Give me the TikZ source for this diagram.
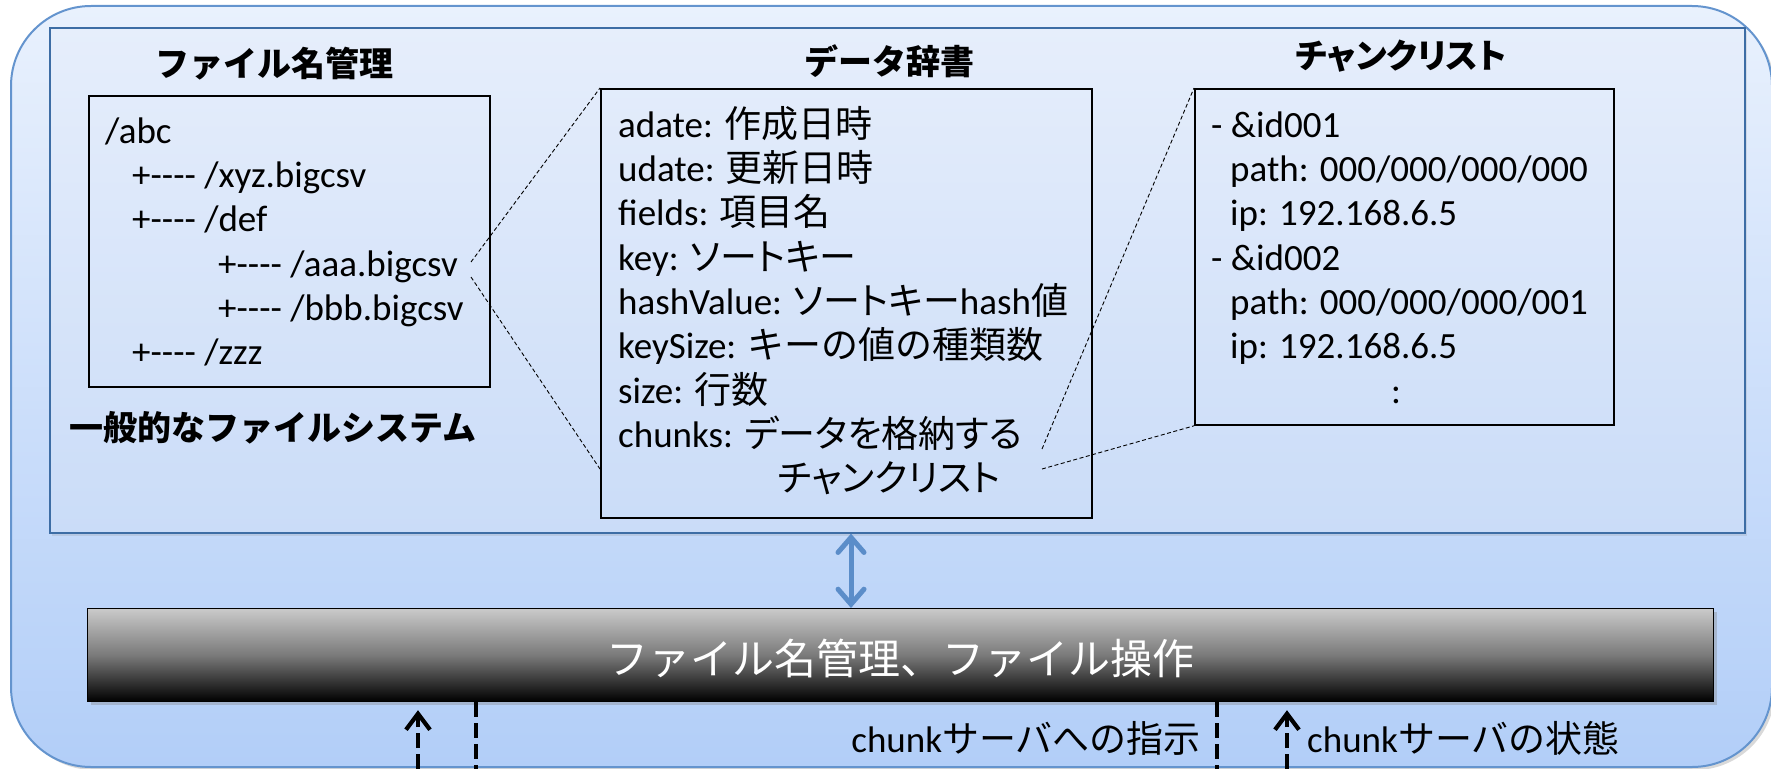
\documentclass[tikz,border=0pt]{standalone}
\usepackage{fontspec}
\setmainfont{Carlito}
\newfontfamily\jp{Noto Sans CJK JP}
\newfontfamily\jpp{Noto Sans CJK JP}[RawFeature=+palt]
\usetikzlibrary{arrows.meta,shadows}
\definecolor{outerTop}{HTML}{E9F1FD}
\definecolor{outerBot}{HTML}{B2CEF8}
\definecolor{outerLine}{HTML}{6494CE}
\definecolor{panelTop}{HTML}{E6EEFB}
\definecolor{panelBot}{HTML}{CADCF8}
\definecolor{panelLine}{HTML}{3D6DA5}
\definecolor{arrowBlue}{HTML}{5B8DC9}
\definecolor{barTop}{HTML}{CACACA}
\definecolor{barMid}{HTML}{7A7A7A}
\newcommand{\J}[1]{{\jp #1}}
\newcommand{\JP}[1]{{\jpp #1}}
\newcommand{\dsh}{\mbox{-}\mbox{-}\mbox{-}\mbox{-}}
\begin{document}
\begin{tikzpicture}[x=1pt,y=-1pt,
  outerbox/.style={draw=outerLine, line width=2pt, rounded corners=80pt,
    top color=outerTop, bottom color=outerBot, inner sep=0pt,
    drop shadow={shadow xshift=3pt, shadow yshift=-3pt, opacity=0.3}},
  panel/.style={draw=panelLine, line width=1.6pt, top color=panelTop, bottom color=panelBot,
    inner sep=0pt, drop shadow={shadow xshift=2pt, shadow yshift=-3pt, opacity=0.18}},
  box/.style={draw=black, line width=1.8pt, inner sep=0pt, anchor=north west},
  body/.style={inner sep=0pt, align=left, anchor=north west, font=\fontsize{37}{44.3}\selectfont},
  ttl/.style={inner sep=0pt, font=\fontsize{34}{40}\selectfont\jp\bfseries},
  barbox/.style={draw=black, line width=1.2pt, inner sep=0pt, anchor=north west,
    top color=barTop, bottom color=black, middle color=barMid,
    drop shadow={shadow xshift=3pt, shadow yshift=-3pt, opacity=0.35}},
  bartext/.style={inner sep=0pt, text=white, font=\fontsize{42}{48}\selectfont\jp},
  lbl/.style={inner sep=0pt, font=\fontsize{37}{44}\selectfont},
  leader/.style={draw=black, line width=0.9pt, dash pattern=on 4pt off 2.5pt},
  bluearrow/.style={draw=arrowBlue, line width=5pt, line cap=round,
    {Straight Barb[length=15pt,width=26pt,line cap=round]}-{Straight Barb[length=15pt,width=26pt,line cap=round]}},
  dline/.style={draw=black, line width=4.2pt, dash pattern=on 15pt off 6pt},
  uparrow/.style={dline, -{Straight Barb[length=16pt,width=24pt]}}
]
\useasboundingbox (0,0) rectangle (1771,768);

% outer rounded container
\node[outerbox, minimum width=1761pt, minimum height=761pt] (outer) at (891.5,386.5) {};
% top panel
\node[panel, minimum width=1695pt, minimum height=505pt, anchor=north west] (panel) at (49,27) {};

% titles
\node[ttl] (t1) at (274.5,64) {ファイル名管理};
\node[ttl] (t2) at (889,61) {データ辞書};
\node[ttl, font=\fontsize{34}{40}\selectfont\jpp\bfseries] (t3) at (1401,56) {チャンクリスト};
\node[ttl] (t4) at (273,428) {一般的なファイルシステム};

% boxes
\node[box, minimum width=401pt, minimum height=291pt] (fbox) at (88,95) {};
\node[box, minimum width=491pt, minimum height=429pt] (dbox) at (600,88) {};
\node[box, minimum width=419pt, minimum height=336pt] (cbox) at (1194,88) {};

% box texts
\node[body] (ftext) at (105,107) {\rule{0pt}{36pt}/abc\\
\hspace*{27pt}+\dsh{} /xyz.bigcsv\\
\hspace*{27pt}+\dsh{} /def\\
\hspace*{113pt}+\dsh{} /aaa.bigcsv\\
\hspace*{113pt}+\dsh{} /bbb.bigcsv\\
\hspace*{27pt}+\dsh{} /zzz};

\node[body] (dtext) at (618,101) {\rule{0pt}{36pt}adate: \J{作成日時}\\
udate: \J{更新日時}\\
fields: \J{項目名}\\
key: \JP{ソートキー}\\
hashValue: \JP{ソートキー}hash\J{値}\\
keySize: \J{キーの値の種類数}\\
size: \J{行数}\\
chunks: \JP{データを格納する}\\
\hspace*{160pt}\JP{チャンクリスト}};

\node[body] (ctext) at (1211,101) {\rule{0pt}{36pt}- \&id001\\
\hspace*{19pt}path: 000/000/000/000\\
\hspace*{19pt}ip: 192.168.6.5\\
- \&id002\\
\hspace*{19pt}path: 000/000/000/001\\
\hspace*{19pt}ip: 192.168.6.5\\
\hspace*{180pt}:};

% leader lines
\coordinate (a1) at (471,262);
\coordinate (a2) at (471,277);
\coordinate (d2) at (600,469);
\coordinate (c1) at (1042,449);
\coordinate (c2) at (1042,469);
\draw[leader] (a1) -- (dbox.north west);
\draw[leader] (a2) -- (d2);
\draw[leader] (c1) -- (cbox.north west);
\draw[leader] (c2) -- (cbox.south west);

% bar
\node[barbox, minimum width=1626pt, minimum height=93pt] (bar) at (87,608) {};
\node[bartext] (bt) at (900,658) {ファイル名管理、ファイル操作};

% blue double arrow
\coordinate (ax) at (851,570);
\draw[bluearrow] (panel.south -| ax) -- (bar.north -| ax);

% bottom arrows
\coordinate (u1) at (418,790);
\coordinate (v1) at (476,790);
\coordinate (v2) at (1217,790);
\coordinate (u2) at (1287,790);
\draw[uparrow, shorten >=8pt] (u1) -- (bar.south -| u1);
\draw[dline] (bar.south -| v1) -- (v1);
\draw[dline] (bar.south -| v2) -- (v2);
\draw[uparrow, shorten >=8pt] (u2) -- (bar.south -| u2);

\node[lbl, anchor=base east] (l1) at (1201,752) {chunk\J{サーバへの指示}};
\node[lbl, anchor=base west] (l2) at (1307,752) {chunk\J{サーバの状態}};
\end{tikzpicture}
\end{document}
